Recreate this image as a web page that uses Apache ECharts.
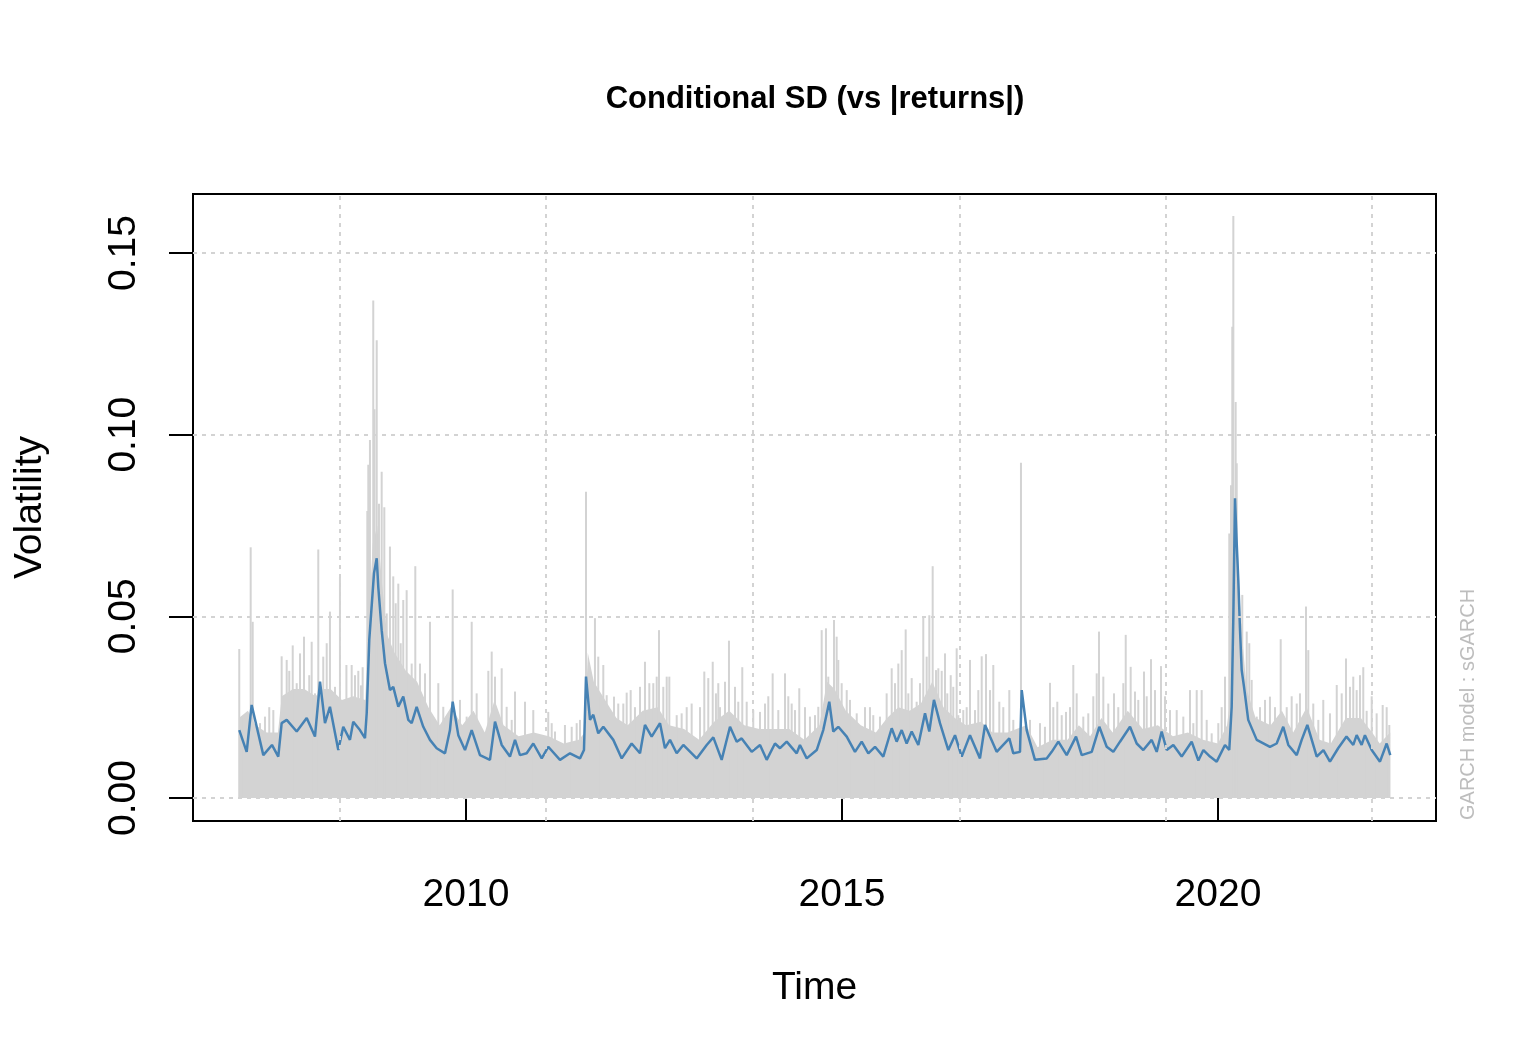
<!DOCTYPE html>
<html><head><meta charset="utf-8">
<script src="https://cdn.jsdelivr.net/npm/echarts@6/dist/echarts.min.js"></script>
<style>html,body{margin:0;padding:0;background:#fff}#c{width:1536px;height:1063px}</style>
</head><body><div id="c"></div>
<script>
// ---- tick / grid positions ----
const xTickYears = [2010, 2015, 2020];
const yTickValues = [0, 0.05, 0.10, 0.15];
const gridYears = [2008.324, 2011.064, 2013.817, 2016.556, 2019.295, 2022.035];
const gridValues = [0, 0.05, 0.10, 0.15];

// ---- conditional SD (blue) ----
const volYears = [
 2006.985,2007.084,2007.150,2007.305,2007.420,2007.504,2007.549,2007.616,2007.749,2007.882,2007.992,
 2008.059,2008.125,2008.191,2008.302,2008.368,2008.457,2008.501,2008.590,2008.657,2008.680,2008.714,2008.777,2008.813,2008.834,2008.879,2008.923,2008.989,
 2009.033,2009.100,2009.166,2009.233,2009.278,2009.344,2009.432,2009.521,2009.610,2009.721,2009.787,2009.823,2009.898,2009.987,
 2010.076,2010.186,2010.319,2010.386,2010.475,2010.585,2010.652,2010.718,2010.807,2010.895,
 2011.007,2011.094,2011.250,2011.383,2011.516,2011.569,2011.596,2011.649,2011.693,2011.759,2011.826,2011.959,
 2012.071,2012.203,2012.314,2012.380,2012.469,2012.580,2012.646,2012.713,2012.802,2012.890,
 2013.068,2013.201,2013.289,2013.368,2013.400,2013.511,2013.600,2013.666,2013.799,2013.910,2013.999,
 2014.109,2014.176,2014.265,2014.398,2014.441,2014.531,2014.664,2014.751,2014.831,2014.884,2014.951,
 2015.063,2015.173,2015.262,2015.350,2015.439,2015.549,2015.661,2015.727,2015.794,2015.860,2015.927,
 2016.015,2016.104,2016.161,2016.223,2016.303,2016.414,2016.503,2016.592,2016.702,2016.835,2016.902,2016.968,
 2017.057,2017.225,2017.278,2017.367,2017.390,2017.456,2017.566,2017.722,2017.789,2017.877,2017.988,
 2018.112,2018.188,2018.321,2018.422,2018.520,2018.608,2018.697,2018.830,2018.919,
 2019.007,2019.118,2019.185,2019.251,2019.318,2019.406,2019.517,2019.650,2019.739,2019.806,2019.894,2019.983,
 2020.093,2020.150,2020.182,2020.204,2020.226,2020.249,2020.270,2020.293,2020.315,2020.346,2020.402,2020.515,2020.691,2020.780,2020.868,2020.935,
 2021.047,2021.113,2021.188,2021.313,2021.402,2021.489,2021.598,2021.709,2021.799,2021.844,2021.910,2021.954,2022.044,2022.154,2022.243,2022.291
];
const volValues = [
 0.0187,0.0127,0.0256,0.0118,0.0146,0.0114,0.0206,0.0215,0.0183,0.022,0.0169,
 0.032,0.0206,0.0251,0.0132,0.0196,0.016,0.021,0.0187,0.0165,0.0234,0.0435,0.0619,0.066,0.058,0.0462,0.0371,0.0297,
 0.0306,0.0251,0.0279,0.0215,0.0206,0.0251,0.0196,0.016,0.0137,0.0123,0.0187,0.0265,0.0173,0.0132,
 0.0187,0.0118,0.0105,0.021,0.0146,0.0114,0.016,0.0118,0.0123,0.015,
 0.0109,0.0141,0.0105,0.0123,0.0109,0.0132,0.0334,0.0215,0.0229,0.0178,0.0196,0.016,
 0.0109,0.015,0.0123,0.0201,0.0169,0.0206,0.0137,0.016,0.0123,0.0146,
 0.0109,0.0146,0.0167,0.0123,0.0105,0.0196,0.0155,0.0164,0.0127,0.0146,0.0105,
 0.015,0.0137,0.0155,0.0123,0.0146,0.0109,0.0132,0.0187,0.0265,0.0183,0.0196,
 0.0169,0.0127,0.0155,0.0123,0.0141,0.0114,0.0192,0.0155,0.0187,0.015,0.0183,
 0.0146,0.0233,0.0183,0.027,0.0206,0.0132,0.0173,0.0114,0.0173,0.0109,0.0201,0.0169,
 0.0127,0.0164,0.0123,0.0127,0.0297,0.0187,0.0105,0.0109,0.0127,0.0155,0.0118,
 0.0169,0.0118,0.0127,0.0196,0.0141,0.0127,0.0155,0.0196,0.015,
 0.0132,0.016,0.0127,0.0183,0.0132,0.0146,0.0114,0.0155,0.0103,0.0132,0.0114,0.010,
 0.0146,0.0132,0.0251,0.0499,0.0825,0.070,0.060,0.0462,0.0352,0.0306,0.0215,0.016,0.0141,0.015,0.0196,0.0146,
 0.0118,0.016,0.0201,0.0114,0.0132,0.010,0.0137,0.0169,0.0146,0.0173,0.0146,0.0173,0.0132,0.010,0.015,0.0118
];

// ---- |returns| (grey): dense body top ----
const coreYears = [
 2006.98,2007.1,2007.2,2007.35,2007.5,2007.55,2007.7,2007.85,2008.0,2008.1,2008.2,2008.35,2008.5,2008.66,
 2008.7,2008.76,2008.82,2008.88,2008.95,2009.05,2009.2,2009.35,2009.5,2009.65,2009.8,2009.95,
 2010.1,2010.25,2010.38,2010.5,2010.7,2010.9,2011.1,2011.3,2011.5,2011.58,2011.62,2011.7,2011.85,
 2012.0,2012.15,2012.35,2012.55,2012.7,2012.9,2013.1,2013.3,2013.5,2013.7,2013.9,
 2014.1,2014.3,2014.5,2014.7,2014.8,2014.9,2015.05,2015.25,2015.45,2015.6,2015.75,2015.9,
 2016.05,2016.2,2016.35,2016.5,2016.65,2016.85,2017.0,2017.2,2017.45,2017.6,2017.8,
 2018.0,2018.15,2018.3,2018.45,2018.6,2018.8,2019.0,2019.2,2019.4,2019.6,2019.8,
 2020.0,2020.12,2020.18,2020.22,2020.26,2020.3,2020.38,2020.5,2020.7,2020.85,
 2021.0,2021.18,2021.35,2021.5,2021.7,2021.9,2022.05,2022.15,2022.29
];
const coreTop = [
 0.022,0.024,0.02,0.018,0.018,0.028,0.03,0.03,0.028,0.03,0.03,0.027,0.028,0.027,
 0.045,0.07,0.075,0.06,0.045,0.04,0.035,0.032,0.025,0.02,0.025,0.02,
 0.024,0.018,0.027,0.02,0.017,0.018,0.017,0.015,0.016,0.018,0.04,0.032,0.027,
 0.022,0.02,0.024,0.025,0.02,0.019,0.016,0.021,0.024,0.02,0.019,
 0.019,0.019,0.016,0.02,0.032,0.03,0.024,0.02,0.018,0.022,0.025,0.024,
 0.026,0.032,0.025,0.022,0.02,0.021,0.018,0.018,0.02,0.014,0.016,
 0.016,0.02,0.017,0.022,0.018,0.024,0.019,0.02,0.017,0.018,0.016,
 0.015,0.02,0.03,0.08,0.07,0.05,0.03,0.022,0.02,0.024,
 0.018,0.025,0.016,0.015,0.022,0.022,0.018,0.015,0.018
];

// ---- |returns| (grey): individual spikes ----
const spikeYears = [
 2006.985,2007.039,2007.137,2007.164,2007.261,2007.327,2007.384,2007.438,2007.549,2007.616,2007.650,2007.696,2007.749,2007.793,2007.846,2007.916,2007.948,2007.992,
 2008.036,2008.102,2008.148,2008.191,2008.258,2008.324,2008.391,2008.410,2008.480,2008.524,2008.568,2008.604,2008.626,2008.688,2008.701,2008.723,2008.767,2008.783,2008.813,2008.843,2008.879,2008.914,2008.946,2008.989,
 2009.033,2009.065,2009.100,2009.132,2009.166,2009.211,2009.278,2009.326,2009.388,2009.455,2009.521,2009.632,2009.698,2009.823,2009.920,
 2010.009,2010.076,2010.142,2010.297,2010.342,2010.386,2010.475,2010.541,2010.608,2010.652,2010.785,2010.895,
 2011.094,2011.140,2011.184,2011.316,2011.406,2011.472,2011.516,2011.596,2011.649,2011.715,2011.759,2011.791,2011.826,2011.871,2011.968,
 2012.025,2012.092,2012.137,2012.190,2012.247,2012.314,2012.380,2012.438,2012.491,2012.536,2012.567,2012.624,2012.669,2012.704,2012.802,2012.868,2012.935,
 2013.001,2013.112,2013.169,2013.222,2013.281,2013.324,2013.355,2013.378,2013.444,2013.497,2013.577,2013.621,2013.674,2013.733,2013.820,2013.910,2013.976,
 2014.020,2014.078,2014.153,2014.242,2014.286,2014.331,2014.375,2014.432,2014.508,2014.574,2014.641,2014.685,2014.730,2014.787,2014.818,2014.894,2014.929,2014.951,2014.996,
 2015.063,2015.106,2015.196,2015.306,2015.372,2015.416,2015.505,2015.594,2015.661,2015.705,2015.749,2015.794,2015.847,2015.882,2015.927,2015.993,
 2016.037,2016.081,2016.126,2016.161,2016.206,2016.250,2016.281,2016.326,2016.370,2016.400,2016.446,2016.480,2016.525,2016.547,2016.613,2016.658,2016.702,2016.769,2016.813,2016.858,2016.915,2016.968,
 2017.012,2017.092,2017.145,2017.225,2017.278,2017.380,2017.500,2017.633,2017.699,2017.766,2017.810,2017.863,2017.922,2017.979,
 2018.032,2018.076,2018.121,2018.209,2018.275,2018.342,2018.387,2018.418,2018.475,2018.541,2018.617,2018.674,2018.741,2018.773,2018.839,2018.896,2018.940,
 2019.016,2019.052,2019.109,2019.162,2019.242,2019.295,2019.362,2019.451,2019.539,2019.628,2019.672,2019.717,2019.783,2019.850,2019.916,
 2020.004,2020.049,2020.093,2020.150,2020.173,2020.190,2020.204,2020.235,2020.249,2020.300,2020.323,2020.382,2020.416,2020.448,2020.515,2020.559,2020.625,2020.691,2020.758,2020.834,2020.914,2020.980,
 2021.047,2021.090,2021.170,2021.201,2021.267,2021.334,2021.400,2021.489,2021.579,2021.645,2021.702,2021.755,2021.799,2021.844,2021.888,2021.932,2021.977,2022.044,2022.110,2022.190,2022.243,2022.278
];
const spikeValues = [
 0.041,0.022,0.069,0.0485,0.0206,0.0224,0.025,0.0242,0.039,0.038,0.035,0.042,0.0316,0.0398,0.0444,0.0338,0.043,0.0288,
 0.0684,0.0389,0.0426,0.0513,0.0306,0.0609,0.0242,0.0366,0.0366,0.0338,0.035,0.031,0.036,0.079,0.0917,0.0985,0.1369,0.107,0.126,0.081,0.0898,0.080,0.0508,0.0692,
 0.061,0.0536,0.059,0.0426,0.0545,0.0572,0.037,0.0638,0.037,0.0343,0.0485,0.0316,0.0251,0.0574,0.027,
 0.0224,0.0485,0.0288,0.035,0.0403,0.0334,0.0357,0.0251,0.0215,0.0293,0.0265,0.0242,
 0.0237,0.0206,0.0183,0.0201,0.0196,0.0206,0.0215,0.0843,0.035,0.0495,0.0389,0.0279,0.0366,0.0283,0.0279,
 0.026,0.026,0.029,0.0297,0.025,0.0306,0.0375,0.0316,0.0316,0.0334,0.0462,0.0306,0.0334,0.0334,0.0228,0.0233,0.025,
 0.026,0.025,0.0348,0.033,0.0375,0.0288,0.0316,0.025,0.032,0.0433,0.0306,0.0265,0.036,0.0265,0.0242,0.0237,0.026,
 0.028,0.0343,0.0242,0.0343,0.028,0.026,0.0242,0.0302,0.025,0.0224,0.0228,0.0251,0.0462,0.0467,0.0334,0.049,0.0444,0.038,0.0316,
 0.0297,0.027,0.0233,0.025,0.025,0.0228,0.0224,0.0288,0.0357,0.0316,0.037,0.0407,0.0464,0.0288,0.033,0.0265,
 0.0316,0.0497,0.0389,0.0503,0.0638,0.0352,0.0357,0.035,0.0398,0.0288,0.0338,0.0306,0.0412,0.0228,0.0242,0.025,0.038,0.0242,0.0297,0.039,0.0396,0.0297,
 0.0366,0.0265,0.025,0.0297,0.0215,0.0923,0.0215,0.0206,0.0196,0.0317,0.025,0.0265,0.0228,0.0237,
 0.025,0.0366,0.0288,0.0224,0.0233,0.028,0.0343,0.0458,0.0334,0.026,0.0288,0.025,0.0316,0.0449,0.0361,0.0293,0.027,
 0.0348,0.028,0.0382,0.0297,0.0363,0.028,0.0242,0.0242,0.0224,0.0297,0.0206,0.0297,0.0297,0.0215,0.0178,
 0.0206,0.025,0.0334,0.0728,0.0861,0.1297,0.1602,0.109,0.0921,0.048,0.0559,0.0458,0.0426,0.0325,0.0224,0.025,0.027,0.0279,0.025,0.0437,0.025,0.028,
 0.026,0.0288,0.0527,0.0407,0.026,0.0215,0.027,0.0233,0.0311,0.0288,0.0384,0.0306,0.0334,0.0297,0.0338,0.036,0.024,0.028,0.0233,0.0256,0.025,0.0201
];

const FONT = '"Liberation Sans", Arial, Helvetica, sans-serif';
const GREY = '#d3d3d3';
const BLUE = '#4682b4';

const volData = volYears.map((t, i) => [t, volValues[i]]);
const coreData = coreYears.map((t, i) => [t, coreTop[i]]);
const spikeData = spikeYears.map((t, i) => [t, spikeValues[i]]);

const chart = echarts.init(document.getElementById('c'), null, {renderer: 'canvas'});
chart.setOption({
  animation: false,
  backgroundColor: '#fff',
  grid: {left: 193, right: 100, top: 194, bottom: 242, show: true,
         borderColor: '#000', borderWidth: 2, backgroundColor: 'transparent'},
  xAxis: {
    type: 'value', min: 2006.37, max: 2022.899,
    axisLine: {show: false}, splitLine: {show: false},
    axisTick: {show: true, customValues: xTickYears, length: 24, lineStyle: {color: '#000', width: 2}},
    axisLabel: {customValues: xTickYears, margin: 55, fontSize: 39, color: '#000', fontFamily: FONT,
                formatter: v => String(Math.round(v))},
    name: 'Time', nameLocation: 'middle', nameGap: 167,
    nameTextStyle: {fontSize: 39, color: '#000', fontFamily: FONT, verticalAlign: 'middle'}
  },
  yAxis: {
    type: 'value', min: -0.00633, max: 0.16624,
    axisLine: {show: false}, splitLine: {show: false},
    axisTick: {show: true, customValues: yTickValues, length: 24, lineStyle: {color: '#000', width: 2}},
    axisLabel: {customValues: yTickValues, margin: 49, fontSize: 39, color: '#000', fontFamily: FONT, rotate: 90,
                formatter: v => v.toFixed(2)},
    name: 'Volatility', nameLocation: 'middle', nameGap: 163, nameRotate: 90,
    nameTextStyle: {fontSize: 39, color: '#000', fontFamily: FONT, verticalAlign: 'middle'}
  },
  graphic: [
    {type: 'text', x: 815, y: 99, style: {text: 'Conditional SD (vs |returns|)', fontSize: 31, fontWeight: 'bold',
      fontFamily: FONT, fill: '#000', align: 'center', verticalAlign: 'middle'}},
    {type: 'text', x: 1468, y: 820, rotation: Math.PI / 2, style: {text: 'GARCH model : sGARCH', fontSize: 20,
      fontFamily: FONT, fill: '#bdbdbd', align: 'left', verticalAlign: 'middle'}}
  ],
  series: [
    {
      type: 'line', name: 'grid', data: [], silent: true, z: 1,
      markLine: {
        silent: true, symbol: ['none', 'none'], label: {show: false},
        lineStyle: {color: GREY, type: [4, 5], width: 2},
        data: gridYears.map(v => ({xAxis: v})).concat(gridValues.map(v => ({yAxis: v})))
      }
    },
    {
      type: 'line', name: '|returns| body', data: coreData, showSymbol: false, silent: true, z: 2,
      lineStyle: {width: 0, color: GREY}, itemStyle: {color: GREY},
      areaStyle: {color: GREY, opacity: 1}
    },
    {
      type: 'bar', name: '|returns|', data: spikeData, barWidth: 2, silent: true, z: 3,
      itemStyle: {color: GREY}
    },
    {
      type: 'line', name: 'Conditional SD', data: volData, showSymbol: false, silent: true, z: 4,
      lineStyle: {color: BLUE, width: 2.5}, itemStyle: {color: BLUE}
    }
  ]
});
</script>
</body></html>
